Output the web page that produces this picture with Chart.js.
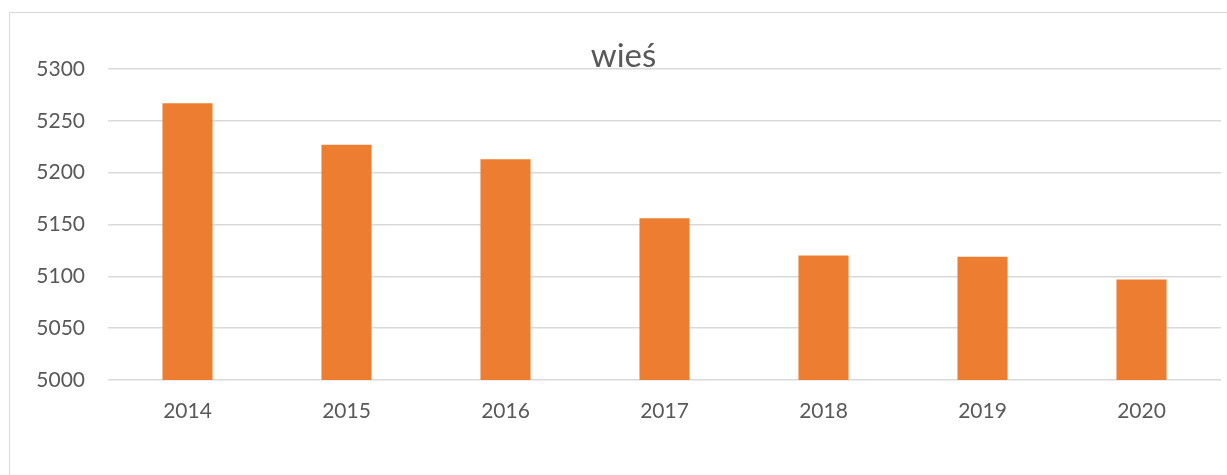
<!DOCTYPE html>
<html lang="pl">
<head>
<meta charset="UTF-8">
<title>wieś</title>
<script src="https://cdn.jsdelivr.net/npm/chart.js@4.4.0/dist/chart.umd.min.js"></script>
<style>
  html, body { margin: 0; padding: 0; background: #fff; overflow: hidden; }
  #wrap { position: relative; width: 1227px; height: 475px; }
  #frame { position: absolute; left: 9px; top: 12px; width: 1240px; height: 500px; border: 1.5px solid #d9d9d9; box-sizing: border-box; }
  canvas { position: absolute; left: 0; top: 0; }
</style>
</head>
<body>
<div id="wrap">
  <div id="frame"></div>
  <canvas id="myChart" width="1227" height="475"></canvas>
</div>
<script>
const years = ['2014', '2015', '2016', '2017', '2018', '2019', '2020']
const wies = [5267, 5227, 5213, 5156, 5120, 5119, 5097]
const chartTitle = 'wieś'

const textColor = '#595959'
const gridColor = '#d9d9d9'

// title sits on top of the 5300 gridline, like in the excel chart
const titleOnGrid = {
  id: 'titleOnGrid',
  afterDraw(chart) {
    const ctx = chart.ctx
    const area = chart.chartArea
    ctx.save()
    ctx.font = '33px Lato'
    ctx.fillStyle = textColor
    ctx.textAlign = 'center'
    ctx.textBaseline = 'alphabetic'
    ctx.fillText(chartTitle, chart.width / 2 + 10, area.top - 2)
    ctx.restore()
  }
}

new Chart(document.getElementById('myChart'), {
  type: 'bar',
  data: {
    labels: years,
    datasets: [{
      label: chartTitle,
      data: wies,
      backgroundColor: '#ed7d31',
      borderWidth: 0,
      categoryPercentage: 1,
      barPercentage: 0.315
    }]
  },
  options: {
    responsive: false,
    animation: false,
    layout: { padding: { top: 69, right: 6, left: 0, bottom: 0 } },
    plugins: {
      legend: { display: false },
      title: { display: false },
      tooltip: { enabled: false }
    },
    scales: {
      x: {
        grid: { display: false },
        border: { display: false },
        ticks: { color: textColor, font: { family: 'Lato', size: 21 }, padding: 11 },
        afterFit: s => { s.height = 95 }
      },
      y: {
        min: 5000,
        max: 5300,
        grid: { color: gridColor, lineWidth: 1.5, drawTicks: false },
        border: { display: false },
        ticks: {
          stepSize: 50,
          color: textColor,
          font: { family: 'Lato', size: 21 },
          padding: 23,
          callback: v => String(v)
        },
        afterFit: s => { s.width = 108 }
      }
    }
  },
  plugins: [titleOnGrid]
})
</script>
</body>
</html>
